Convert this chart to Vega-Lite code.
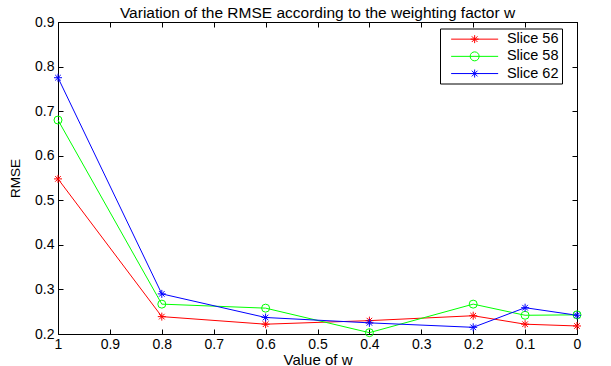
{
  "$schema": "https://vega.github.io/schema/vega-lite/v6.json",
  "width": 519,
  "height": 312,
  "padding": {"left": 8, "top": 5, "right": 5, "bottom": 2},
  "background": "white",
  "title": {"text": "Variation of the RMSE according to the weighting factor w", "fontSize": 15.5, "fontWeight": "normal", "font": "Liberation Sans", "offset": -6, "color": "black"},
  "data": {"values": [
    {"w": 1, "rmse": 0.548, "slice": "Slice 56"},
    {"w": 0.8, "rmse": 0.239, "slice": "Slice 56"},
    {"w": 0.6, "rmse": 0.222, "slice": "Slice 56"},
    {"w": 0.4, "rmse": 0.230, "slice": "Slice 56"},
    {"w": 0.2, "rmse": 0.241, "slice": "Slice 56"},
    {"w": 0.1, "rmse": 0.222, "slice": "Slice 56"},
    {"w": 0, "rmse": 0.218, "slice": "Slice 56"},
    {"w": 1, "rmse": 0.680, "slice": "Slice 58"},
    {"w": 0.8, "rmse": 0.267, "slice": "Slice 58"},
    {"w": 0.6, "rmse": 0.258, "slice": "Slice 58"},
    {"w": 0.4, "rmse": 0.203, "slice": "Slice 58"},
    {"w": 0.2, "rmse": 0.267, "slice": "Slice 58"},
    {"w": 0.1, "rmse": 0.242, "slice": "Slice 58"},
    {"w": 0, "rmse": 0.243, "slice": "Slice 58"},
    {"w": 1, "rmse": 0.775, "slice": "Slice 62"},
    {"w": 0.8, "rmse": 0.290, "slice": "Slice 62"},
    {"w": 0.6, "rmse": 0.237, "slice": "Slice 62"},
    {"w": 0.4, "rmse": 0.225, "slice": "Slice 62"},
    {"w": 0.2, "rmse": 0.215, "slice": "Slice 62"},
    {"w": 0.1, "rmse": 0.259, "slice": "Slice 62"},
    {"w": 0, "rmse": 0.242, "slice": "Slice 62"}
  ]},
  "config": {
    "view": {"stroke": "black", "strokeWidth": 1},
    "axis": {"grid": false, "domainColor": "black", "tickColor": "black", "labelColor": "black", "titleColor": "black", "labelFont": "Liberation Sans", "titleFont": "Liberation Sans", "labelFontSize": 14, "titleFontSize": 13.5, "titleFontWeight": "normal", "tickSize": -5}
  },
  "layer": [
    {
      "mark": {"type": "line", "strokeWidth": 1},
      "encoding": {
        "x": {"field": "w", "type": "quantitative", "scale": {"domain": [0, 1], "reverse": true, "nice": false},
              "axis": {"orient": "bottom", "values": [0, 0.1, 0.2, 0.3, 0.4, 0.5, 0.6, 0.7, 0.8, 0.9, 1], "format": ".1~f", "title": "Value of w", "titleFontSize": 15, "labelPadding": 8, "titlePadding": 1, "labelFlush": false, "labelOverlap": false}},
        "y": {"field": "rmse", "type": "quantitative", "scale": {"domain": [0.2, 0.9], "nice": false, "zero": false},
              "axis": {"orient": "left", "values": [0.2, 0.3, 0.4, 0.5, 0.6, 0.7, 0.8, 0.9], "format": ".1f", "title": "RMSE", "labelPadding": 9, "titlePadding": 12, "labelFlush": false}},
        "color": {"field": "slice", "type": "nominal",
                  "scale": {"domain": ["Slice 56", "Slice 58", "Slice 62"], "range": ["#ff0000", "#00ff00", "#0000ff"]},
                  "legend": {"orient": "none", "legendX": 382, "legendY": 6.5, "title": null, "strokeColor": "black", "fillColor": "white", "padding": 3.4,
                             "symbolSize": 100, "symbolStrokeWidth": 1, "symbolOffset": 24, "labelFontSize": 14.5, "labelFont": "Liberation Sans", "labelColor": "black", "rowPadding": 2.2, "labelOffset": 25,
                             "encode": {"symbols": {"update": {"shape": {"signal": "datum.value === 'Slice 58' ? 'M-4.7,0L4.7,0M0.9,0A0.9,0.9 0 1,1 -0.9,0A0.9,0.9 0 1,1 0.9,0' : 'M-4.7,0L4.7,0M0,-0.8L0,0.8M-0.8,0L0.8,0M-0.57,-0.57L0.57,0.57M-0.57,0.57L0.57,-0.57'"}}}}}}
      }
    },
    {
      "mark": {"type": "point", "filled": false, "size": 64, "strokeWidth": 1, "opacity": 1},
      "encoding": {
        "x": {"field": "w", "type": "quantitative", "axis": {"orient": "top", "values": [0, 0.1, 0.2, 0.3, 0.4, 0.5, 0.6, 0.7, 0.8, 0.9, 1], "labels": false, "title": null}},
        "y": {"field": "rmse", "type": "quantitative", "axis": {"orient": "right", "values": [0.2, 0.3, 0.4, 0.5, 0.6, 0.7, 0.8, 0.9], "labels": false, "title": null}},
        "color": {"field": "slice", "type": "nominal", "legend": null},
        "shape": {"condition": {"test": "datum.slice === 'Slice 58'", "value": "circle"},
                  "value": "M0,-1L0,1M-1,0L1,0M-0.7,-0.7L0.7,0.7M-0.7,0.7L0.7,-0.7"}
      }
    }
  ],
  "resolve": {"axis": {"x": "independent", "y": "independent"}}
}
